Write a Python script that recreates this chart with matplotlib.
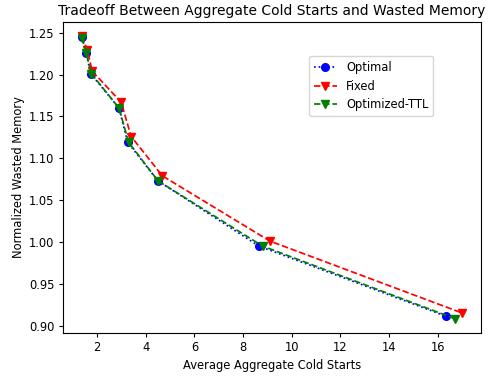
import matplotlib
matplotlib.use("Agg")
import matplotlib.pyplot as plt

opt_x = [1.38, 1.55, 1.74, 2.9, 3.26, 4.5, 8.65, 16.35]
opt_y = [1.245, 1.226, 1.201, 1.160, 1.119, 1.073, 0.995, 0.911]
fix_x = [1.38, 1.6, 1.8, 2.99, 3.4, 4.68, 9.1, 17.0]
fix_y = [1.246, 1.229, 1.204, 1.167, 1.126, 1.079, 1.001, 0.915]
ttl_x = [1.38, 1.55, 1.77, 2.9, 3.3, 4.5, 8.8, 16.72]
ttl_y = [1.244, 1.226, 1.201, 1.160, 1.119, 1.073, 0.995, 0.908]

fs = 8.3
fig = plt.figure(figsize=(4.92, 3.77), dpi=100)
ax = fig.add_axes([0.128, 0.1167, 0.85, 0.825])
ms = 5.5
lw = 1.25
ax.plot(opt_x, opt_y, color='blue', linestyle=':', marker='o', ms=ms, lw=lw, label='Optimal')
ax.plot(fix_x, fix_y, color='red', linestyle='--', marker='v', ms=ms, lw=lw, label='Fixed')
ax.plot(ttl_x, ttl_y, color='green', linestyle='--', marker='v', ms=ms, lw=lw, label='Optimized-TTL')
ax.set_title('Tradeoff Between Aggregate Cold Starts and Wasted Memory', fontsize=10, pad=5)
ax.set_xlabel('Average Aggregate Cold Starts', fontsize=fs, labelpad=3)
ax.set_ylabel('Normalized Wasted Memory', fontsize=fs, labelpad=3)
ax.set_xticks([2, 4, 6, 8, 10, 12, 14, 16])
ax.tick_params(labelsize=fs, length=3, pad=3)
for s in ax.spines.values():
    s.set_linewidth(0.8)
ax.legend(loc='upper right', bbox_to_anchor=(0.885, 0.89), borderaxespad=0, fontsize=fs)
fig.savefig('out.png', dpi=100)
